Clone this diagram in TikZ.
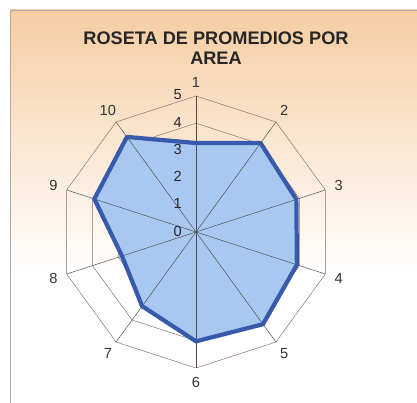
\documentclass[tikz,border=0pt]{standalone}
\usepackage{fontspec}
\setmainfont{Liberation Sans}
\usetikzlibrary{positioning, calc}

\definecolor{peach}{RGB}{245,205,162}
\definecolor{areafill}{RGB}{168,200,242}
\definecolor{arealine}{RGB}{56,90,170}
\definecolor{gridline}{RGB}{140,110,110}

\begin{document}
\begin{tikzpicture}[
    x=0.03cm, y=0.03cm,
    ring/.style={draw=gridline, line width=0.4pt},
    spoke/.style={draw=black!70, line width=0.4pt},
    areabox/.style={fill=areafill},
    areaedge/.style={draw=arealine, line width=3.6pt, line join=round},
    axislabel/.style={font=\fontsize{12.5}{14}\selectfont, text=black!80, inner sep=0pt},
    ticklabel/.style={font=\fontsize{12.5}{14}\selectfont, text=black!85, inner sep=0pt, anchor=east},
    title/.style={font=\fontsize{15.5}{17}\selectfont\bfseries, text=black!85, align=center}
]

% Frame and background
\useasboundingbox (-196,-171) rectangle (221,232);
\fill[white] (-196,-171) rectangle (221,232);
\shade[top color=peach, bottom color=white] (-186,-40) rectangle (221,222);
\draw[gridline!60, line width=0.5pt] (-186,-171) -- (-186,222) -- (221,222);

% Title
\node[title] (title) at (20,184) {ROSETA DE PROMEDIOS POR\\AREA};

% Grid points
\coordinate (c) at (0,0);
\foreach \i in {1,...,10} {
    \foreach \r in {1,...,5}
        \coordinate (g\r-\i) at ({90-36*(\i-1)}:{27.2*\r});
}

% Data points
\foreach \v [count=\i] in {3.27, 4.04, 3.88, 3.9, 4.19, 4.02, 3.37, 2.86, 3.93, 4.32}
    \coordinate (d\i) at ({90-36*(\i-1)}:{27.2*\v});

% Rings
\foreach \r in {1,...,5}
    \draw[ring] (g\r-1) \foreach \i in {2,...,10}{ -- (g\r-\i)} -- cycle;

% Area
\fill[areabox] (d1) \foreach \i in {2,...,10}{ -- (d\i)} -- cycle;

% Spokes
\foreach \i in {1,...,10}
    \draw[spoke] (c) -- (g5-\i);

\draw[areaedge] (d1) \foreach \i in {2,...,10}{ -- (d\i)} -- cycle;

% Labels
\foreach \i in {1,...,10}
    \node[axislabel] (lab\i) at ({90-36*(\i-1)}:150) {\i};
\foreach \r in {0,...,5}
    \node[ticklabel] (tick\r) at (-14, {27.2*\r+1}) {\r};

\end{tikzpicture}
\end{document}
